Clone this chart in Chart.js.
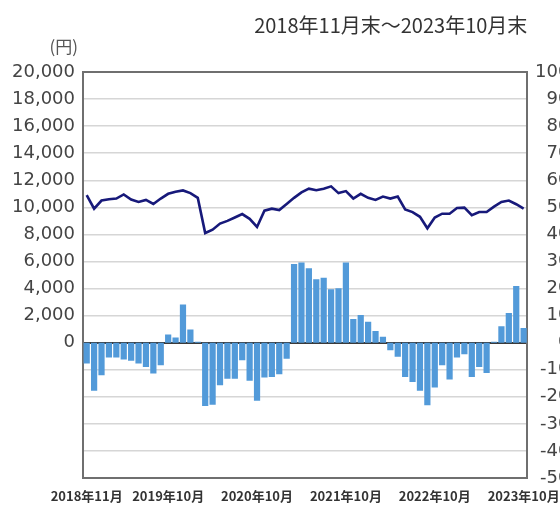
<!DOCTYPE html>
<html>
<head>
<meta charset="utf-8">
<script src="https://cdn.jsdelivr.net/npm/chart.js@4/dist/chart.umd.min.js"></script>
<style>
  body { margin: 0; background: #fff; overflow: hidden; }
  #chart { display: block; }
</style>
</head>
<body>
<canvas id="chart" width="570" height="510"></canvas>
<script>
// months, end of each month
const months = [
  '2018年11月', '2018年12月',
  '2019年1月', '2019年2月', '2019年3月', '2019年4月', '2019年5月', '2019年6月',
  '2019年7月', '2019年8月', '2019年9月', '2019年10月', '2019年11月', '2019年12月',
  '2020年1月', '2020年2月', '2020年3月', '2020年4月', '2020年5月', '2020年6月',
  '2020年7月', '2020年8月', '2020年9月', '2020年10月', '2020年11月', '2020年12月',
  '2021年1月', '2021年2月', '2021年3月', '2021年4月', '2021年5月', '2021年6月',
  '2021年7月', '2021年8月', '2021年9月', '2021年10月', '2021年11月', '2021年12月',
  '2022年1月', '2022年2月', '2022年3月', '2022年4月', '2022年5月', '2022年6月',
  '2022年7月', '2022年8月', '2022年9月', '2022年10月', '2022年11月', '2022年12月',
  '2023年1月', '2023年2月', '2023年3月', '2023年4月', '2023年5月', '2023年6月',
  '2023年7月', '2023年8月', '2023年9月', '2023年10月'
];

// only these months get a label on the bottom axis
const shownMonths = ['2018年11月', '2019年10月', '2020年10月', '2021年10月', '2022年10月', '2023年10月'];

// price (yen), left axis
const price = [
  10900, 9900, 10500, 10600, 10650, 10950, 10580, 10400, 10550, 10250,
  10650, 11000, 11150, 11250, 11050, 10700, 8100, 8350, 8800, 9000,
  9250, 9500, 9150, 8550, 9750, 9900, 9800, 10250, 10700, 11100,
  11380, 11260, 11380, 11550, 11050, 11200, 10650, 11000, 10700, 10550,
  10800, 10650, 10800, 9850, 9650, 9300, 8450, 9250, 9530, 9530,
  9950, 9975, 9420, 9650, 9650, 10050, 10400, 10500, 10230, 9900
];

// change (%), right axis
const change = [
  -7.7, -17.8, -12.0, -5.5, -5.5, -6.2, -6.7, -7.7, -9.0, -11.4,
  -8.3, 3.0, 1.9, 14.1, 4.9, 0.3, -23.4, -22.9, -15.7, -13.3,
  -13.3, -6.5, -14.1, -21.5, -12.9, -12.7, -11.7, -5.9, 29.1, 29.6,
  27.5, 23.4, 24.0, 19.7, 20.1, 29.6, 8.7, 10.2, 7.7, 4.3,
  2.2, -2.8, -5.2, -12.7, -14.5, -17.8, -23.1, -16.6, -8.3, -13.6,
  -5.5, -4.3, -12.7, -9.0, -11.2, 0.3, 6.1, 11.0, 20.9, 5.4
];

const titleText = '2018年11月末～2023年10月末';
const unitText = '(円)';

// title and unit label, placed from the chart area
const textPlugin = {
  id: 'texts',
  afterDraw(chart) {
    const c = chart.ctx;
    const a = chart.chartArea;
    c.save();
    c.fillStyle = '#333';
    c.textBaseline = 'middle';
    c.textAlign = 'right';
    c.font = '20px "Noto Sans CJK JP"';
    c.fillText(titleText, a.right, 25);
    c.fillStyle = '#555';
    c.font = '17px "Noto Sans CJK JP"';
    c.fillText(unitText, a.left - 5, 47);
    c.restore();
  }
};

const ctx = document.getElementById('chart').getContext('2d');

new Chart(ctx, {
  data: {
    labels: months,
    datasets: [
      {
        type: 'line',
        data: price,
        yAxisID: 'y',
        borderColor: '#17197a',
        borderWidth: 2.6,
        pointRadius: 0,
        tension: 0,
        order: 1
      },
      {
        type: 'bar',
        data: change,
        yAxisID: 'y2',
        backgroundColor: '#529ad9',
        borderWidth: 0,
        barPercentage: 0.84,
        categoryPercentage: 1,
        order: 2
      }
    ]
  },
  options: {
    responsive: false,
    animation: false,
    layout: { padding: { top: 72 } },
    plugins: {
      legend: { display: false },
      tooltip: { enabled: false }
    },
    scales: {
      x: {
        grid: { display: false, drawTicks: false },
        border: { display: true, color: '#6f6f6f', width: 2 },
        ticks: {
          autoSkip: false,
          maxRotation: 0,
          padding: 10,
          color: '#333',
          font: { family: '"Noto Sans CJK JP"', size: 13, weight: 'bold' },
          callback: function (v, i) {
            const m = months[i];
            return shownMonths.includes(m) ? m : '';
          }
        },
        afterFit: function (s) { s.height = 32; }
      },
      y: {
        position: 'left',
        min: -10000,
        max: 20000,
        ticks: {
          stepSize: 2000,
          padding: 8,
          color: '#444',
          font: { family: '"DejaVu Sans"', size: 18 },
          callback: function (v) { return v >= 0 ? v.toLocaleString('en-US') : ''; }
        },
        grid: {
          drawTicks: false,
          lineWidth: function (c) { return c.tick && (c.tick.value === 20000 || c.tick.value === 0) ? 2 : 1.5; },
          color: function (c) {
            if (!c.tick) return '#d6d6d6';
            if (c.tick.value === 20000) return '#6f6f6f';
            if (c.tick.value === 0) return '#3a3a3a';
            return '#d6d6d6';
          }
        },
        border: { display: true, color: '#6f6f6f', width: 2 },
        afterFit: function (s) { s.width = 83; }
      },
      y2: {
        position: 'right',
        min: -50,
        max: 100,
        ticks: {
          stepSize: 10,
          padding: 8,
          crossAlign: 'far',
          color: '#444',
          font: { family: '"DejaVu Sans"', size: 18 }
        },
        grid: { display: false, drawTicks: false },
        border: { display: true, color: '#6f6f6f', width: 2 },
        afterFit: function (s) { s.width = 42; }
      }
    }
  },
  plugins: [textPlugin]
});
</script>
</body>
</html>
